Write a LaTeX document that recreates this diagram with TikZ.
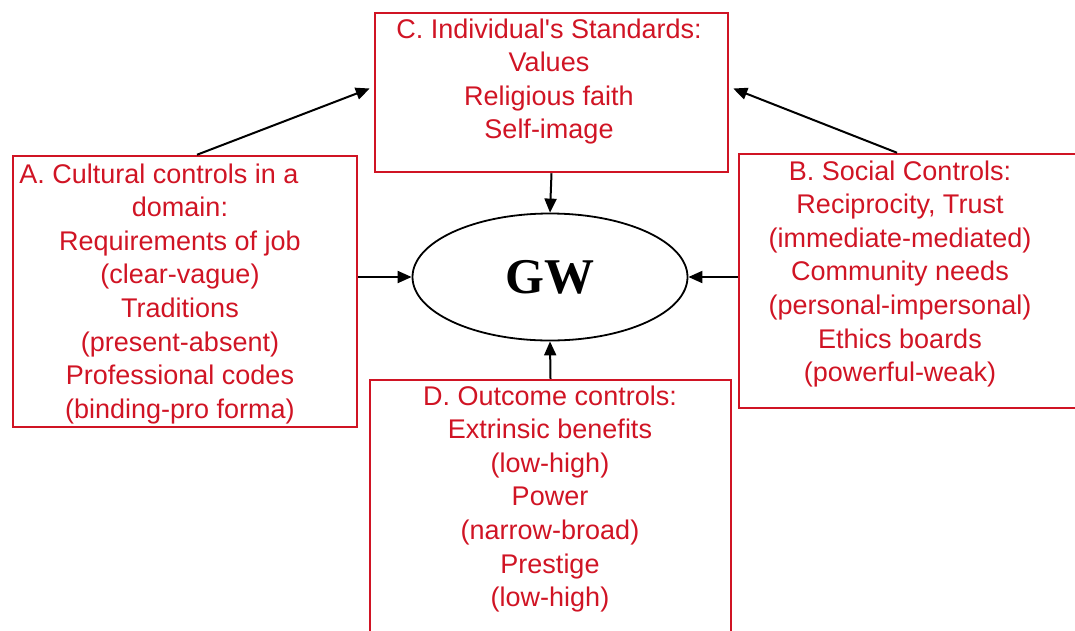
\documentclass[tikz,border=0pt]{standalone}
\usepackage{fontspec}
\setmainfont{Liberation Sans}
\newfontfamily\gwfont{Liberation Serif}
\usetikzlibrary{shapes.geometric,arrows.meta}
\definecolor{boxred}{RGB}{208,20,36}
\begin{document}
\begin{tikzpicture}[x=1pt,y=-1pt,
  ctrlbox/.style={draw=boxred,line width=2.5pt,inner sep=0pt},
  ctrltext/.style={text=boxred,align=center,inner sep=0pt,anchor=north,font=\fontsize{27}{33.6}\selectfont},
  link/.style={line width=2pt,-{Triangle[length=14pt,width=12pt]}}]
\useasboundingbox (0,0) rectangle (1075,630);
\clip (0,0) rectangle (1075,630);

\node[ctrlbox,minimum width=353pt,minimum height=159pt] (C) at (551.5,92.5) {};
\node[ctrlbox,minimum width=344pt,minimum height=271pt] (A) at (185,291.5) {};
\node[ctrlbox,minimum width=346pt,minimum height=254pt] (B) at (912,281) {};
\node[ctrlbox,minimum width=361pt,minimum height=270pt] (D) at (550.5,515) {};
\node[ellipse,draw,line width=1.8pt,minimum width=275pt,minimum height=127pt,
  font=\gwfont\bfseries\fontsize{50}{50}\selectfont] (GW) at (550,277) {GW};

\node[ctrltext] (Ct) at (549,18.3) {C. Individual\textquotesingle s Standards:\\ Values\\ Religious faith\\ Self-image};
\node[ctrltext] (At) at (180,163.3) {A. Cultural controls in a\hspace*{42pt}\\ domain:\\ Requirements of job\\ (clear-vague)\\ Traditions\\ (present-absent)\\ Professional codes\\ (binding-pro forma)};
\node[ctrltext] (Bt) at (900,160.3) {B. Social Controls:\\ Reciprocity, Trust\\ (immediate-mediated)\\ Community needs\\ (personal-impersonal)\\ Ethics boards\\ (powerful-weak)};
\node[ctrltext] (Dt) at (550,385.3) {D. Outcome controls:\\ Extrinsic benefits\\ (low-high)\\ Power\\ (narrow-broad)\\ Prestige\\ (low-high)};

\draw[link] (C.south) -- (GW.north);
\draw[link] (D.north) -- (GW.south);
\draw[link] (A.east |- GW.west) -- (GW.west);
\draw[link] (B.west |- GW.east) -- (GW.east);
\draw[link] ([xshift=12pt]A.north) -- ([xshift=-4pt,yshift=4pt]C.west);
\draw[link] ([xshift=-15pt]B.north) -- ([xshift=4pt,yshift=4pt]C.east);
\end{tikzpicture}
\end{document}
